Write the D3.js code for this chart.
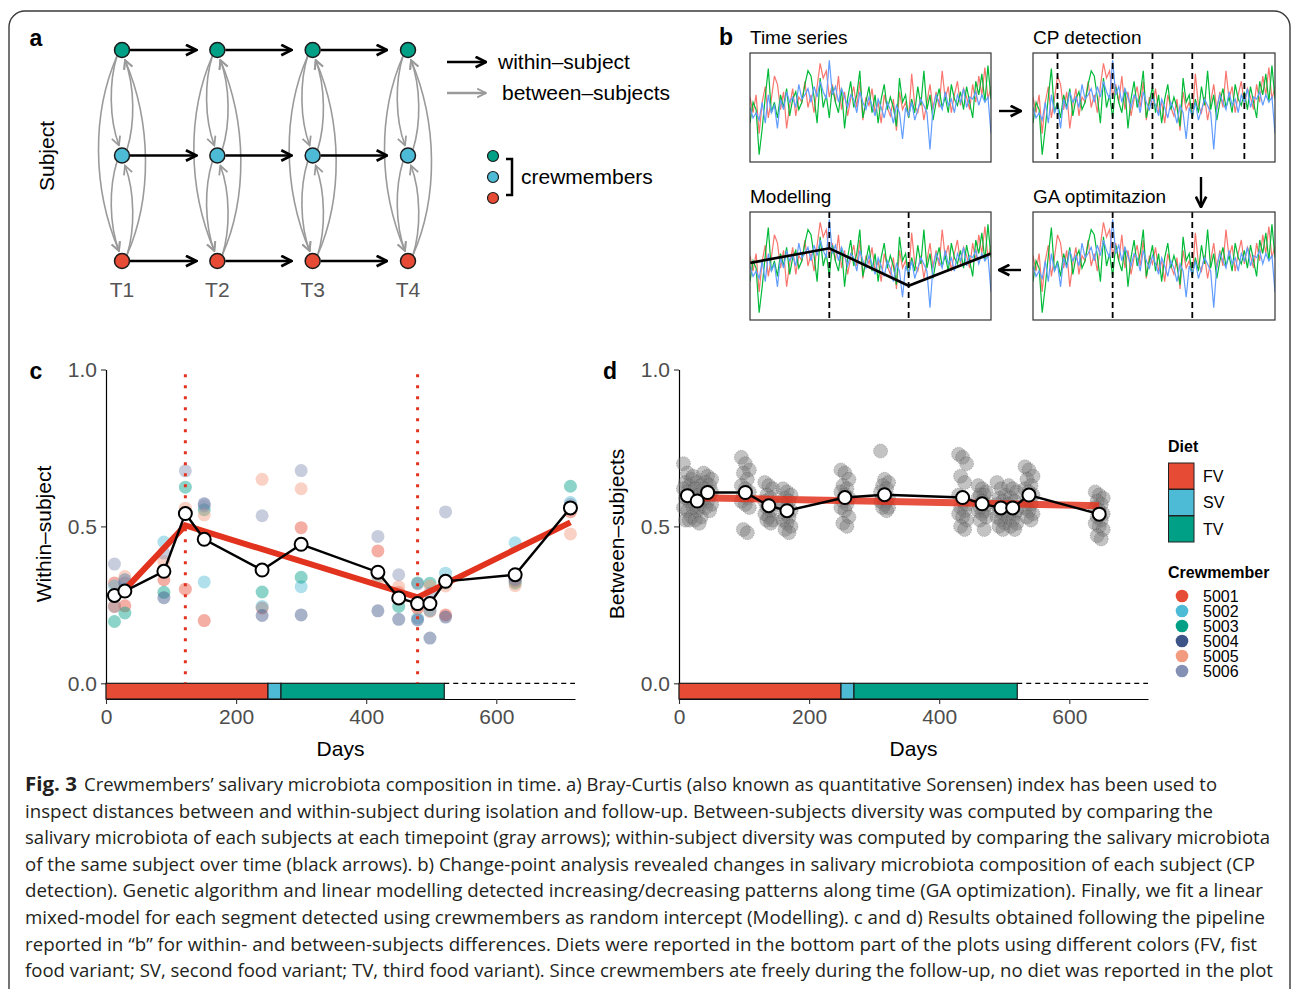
<!DOCTYPE html>
<html>
<head>
<meta charset="utf-8">
<script src="https://cdn.jsdelivr.net/npm/d3@7"></script>
<style>
  body { margin: 0; background: #fff; }
  svg { display: block; }
  text { font-family: "Liberation Sans", Arial, Helvetica, sans-serif; }
  text.caption { font-family: "Open Sans", "Noto Sans", sans-serif; }
</style>
</head>
<body>
<div id="fig"></div>
<script>
// ---- data ----------------------------------------------------------------

// panel a (schema)
var timepoints = ['T1', 'T2', 'T3', 'T4'];
var schemaColors = ['#00A087', '#4DBBD5', '#E64B35'];

// panel b (toy time series, three subjects)
var tsRed = [0.60,0.45,0.62,0.25,0.55,0.70,0.40,0.58,0.80,0.72,0.48,0.65,0.30,0.52,0.68,0.42,0.60,0.55,0.75,0.50,
  0.62,0.45,0.70,0.92,0.78,0.85,0.60,0.72,0.55,0.80,0.48,0.65,0.42,0.58,0.70,0.50,0.75,0.38,0.60,0.52,
  0.68,0.45,0.55,0.35,0.62,0.50,0.42,0.58,0.28,0.65,0.48,0.55,0.40,0.82,0.52,0.45,0.60,0.38,0.55,0.72,
  0.48,0.65,0.50,0.85,0.58,0.70,0.45,0.62,0.75,0.52,0.68,0.60,0.48,0.72,0.55,0.80,0.62,0.88,0.58,0.70];
var tsGreen = [0.35,0.55,0.48,0.05,0.30,0.60,0.87,0.45,0.55,0.40,0.62,0.50,0.68,0.42,0.58,0.65,0.48,0.55,0.72,0.85,
  0.80,0.60,0.35,0.78,0.50,0.62,0.40,0.70,0.55,0.45,0.68,0.30,0.58,0.75,0.50,0.62,0.85,0.40,0.55,0.70,
  0.45,0.62,0.35,0.58,0.72,0.48,0.60,0.50,0.32,0.78,0.55,0.62,0.40,0.58,0.45,0.70,0.52,0.85,0.48,0.62,
  0.38,0.55,0.68,0.50,0.60,0.45,0.72,0.58,0.52,0.65,0.48,0.70,0.55,0.40,0.75,0.62,0.82,0.55,0.90,0.58];
var tsBlue = [0.50,0.40,0.45,0.38,0.55,0.35,0.62,0.45,0.52,0.30,0.58,0.48,0.65,0.55,0.60,0.50,0.72,0.58,0.62,0.68,
  0.55,0.70,0.60,0.75,0.65,0.58,0.95,0.62,0.70,0.55,0.68,0.60,0.50,0.62,0.58,0.45,0.65,0.55,0.48,0.60,
  0.52,0.42,0.58,0.50,0.40,0.55,0.48,0.35,0.52,0.45,0.20,0.50,0.42,0.55,0.38,0.48,0.58,0.52,0.45,0.10,
  0.50,0.62,0.55,0.48,0.65,0.52,0.58,0.45,0.62,0.55,0.68,0.50,0.60,0.58,0.65,0.52,0.62,0.55,0.60,0.25];
var cpDetected = [8, 26, 39, 52, 69];
var cpSelected = [26, 52];
var fitIndex = [0, 26, 52, 79];
var fitValue = [0.53, 0.67, 0.31, 0.62];

// panels c and d
var diets = ['FV', 'SV', 'TV'];
var dietStart = [0, 249, 269];
var dietEnd = [249, 269, 520];
var followUpEnd = 721;
var dietColors = ['#E64B35', '#4DBBD5', '#00A087'];

var crewIds = ['5001', '5002', '5003', '5004', '5005', '5006'];
var crewColors = ['#E64B35', '#4DBBD5', '#00A087', '#3C5488', '#F39B7F', '#8491B4'];

// c: within-subject
var daysC = [13, 29, 89, 122, 151, 240, 300, 418, 450, 479, 498, 522, 629, 714];
var meanC = [0.280, 0.294, 0.357, 0.541, 0.459, 0.361, 0.443, 0.354, 0.272, 0.254, 0.254, 0.325, 0.346, 0.559];
var within5001 = [0.32, 0.247, 0.33, 0.30, 0.20, 0.24, 0.496, 0.422, 0.29, 0.24, 0.23, 0.218, 0.325, 0.547];
var within5002 = [0.31, 0.33, 0.45, 0.54, 0.323, 0.245, 0.308, 0.34, 0.27, 0.208, 0.232, 0.351, 0.448, 0.576];
var within5003 = [0.197, 0.224, 0.29, 0.625, 0.553, 0.291, 0.338, 0.349, 0.245, 0.32, 0.319, 0.32, 0.319, 0.628];
var within5004 = [0.245, 0.32, 0.273, 0.54, 0.572, 0.216, 0.218, 0.231, 0.204, 0.202, 0.144, 0.211, 0.332, 0.56];
var within5005 = [0.245, 0.34, 0.388, 0.558, 0.537, 0.65, 0.62, 0.33, 0.308, 0.24, 0.31, 0.31, 0.311, 0.476];
var within5006 = [0.38, 0.33, 0.415, 0.677, 0.565, 0.534, 0.678, 0.468, 0.346, 0.317, 0.287, 0.546, 0.33, 0.57];
var segDaysC = [14, 122, 479, 714];
var segValC = [0.266, 0.503, 0.274, 0.513];
var changePointsC = [122, 479];

// d: between-subjects (15 pairs per timepoint)
var daysD = [13, 28, 44, 102, 138, 166, 255, 316, 436, 466, 495, 513, 538, 646];
var meanD = [0.598, 0.581, 0.608, 0.608, 0.566, 0.550, 0.592, 0.601, 0.592, 0.572, 0.559, 0.559, 0.600, 0.539];
var betweenD = [
  [0.70,0.67,0.65,0.64,0.63,0.62,0.61,0.60,0.59,0.58,0.56,0.55,0.53,0.52,0.52],
  [0.66,0.64,0.63,0.62,0.60,0.59,0.58,0.58,0.57,0.56,0.56,0.55,0.53,0.52,0.51],
  [0.67,0.66,0.65,0.64,0.63,0.62,0.61,0.61,0.60,0.60,0.59,0.58,0.57,0.56,0.55],
  [0.72,0.70,0.68,0.67,0.65,0.63,0.62,0.61,0.60,0.59,0.58,0.57,0.56,0.49,0.48],
  [0.64,0.63,0.62,0.60,0.59,0.58,0.57,0.57,0.56,0.55,0.54,0.53,0.52,0.52,0.51],
  [0.62,0.61,0.60,0.59,0.58,0.57,0.56,0.55,0.54,0.53,0.52,0.51,0.50,0.49,0.48],
  [0.68,0.67,0.65,0.63,0.62,0.61,0.60,0.59,0.58,0.57,0.56,0.55,0.53,0.51,0.50],
  [0.74,0.65,0.64,0.63,0.62,0.61,0.60,0.59,0.59,0.58,0.58,0.57,0.56,0.56,0.55],
  [0.73,0.72,0.70,0.66,0.64,0.60,0.58,0.57,0.56,0.55,0.54,0.53,0.52,0.50,0.49],
  [0.63,0.62,0.61,0.60,0.60,0.59,0.58,0.57,0.56,0.55,0.55,0.54,0.53,0.52,0.49],
  [0.64,0.62,0.60,0.59,0.58,0.57,0.56,0.56,0.55,0.54,0.53,0.52,0.51,0.50,0.49],
  [0.63,0.62,0.61,0.59,0.58,0.57,0.56,0.55,0.55,0.54,0.53,0.52,0.51,0.50,0.49],
  [0.69,0.68,0.66,0.65,0.63,0.62,0.61,0.60,0.58,0.57,0.56,0.55,0.54,0.53,0.52],
  [0.61,0.60,0.59,0.58,0.57,0.56,0.55,0.54,0.53,0.52,0.51,0.50,0.49,0.47,0.46]
];
var segDaysD = [13, 646];
var segValD = [0.592, 0.566];

var yTicks = [0, 0.5, 1];
var xTicks = [0, 200, 400, 600];

var captionLines = [
  'Crewmembers\u2019 salivary microbiota composition in time. a) Bray-Curtis (also known as quantitative Sorensen) index has been used to',
  'inspect distances between and within-subject during isolation and follow-up. Between-subjects diversity was computed by comparing the',
  'salivary microbiota of each subjects at each timepoint (gray arrows); within-subject diversity was computed by comparing the salivary microbiota',
  'of the same subject over time (black arrows). b) Change-point analysis revealed changes in salivary microbiota composition of each subject (CP',
  'detection). Genetic algorithm and linear modelling detected increasing/decreasing patterns along time (GA optimization). Finally, we fit a linear',
  'mixed-model for each segment detected using crewmembers as random intercept (Modelling). c and d) Results obtained following the pipeline',
  'reported in \u201cb\u201d for within- and between-subjects differences. Diets were reported in the bottom part of the plots using different colors (FV, fist',
  'food variant; SV, second food variant; TV, third food variant). Since crewmembers ate freely during the follow-up, no diet was reported in the plot'
];
var captionEnds = [1217, 1213, 1270, 1255, 1263, 1265, 1257, 1273];

// ---- drawing -------------------------------------------------------------

var svg = d3.select('#fig').append('svg')
    .attr('width', 1292)
    .attr('height', 989);

svg.append('rect')
    .attr('x', 9).attr('y', 11)
    .attr('width', 1281).attr('height', 1020)
    .attr('rx', 16)
    .attr('fill', 'none')
    .attr('stroke', '#3a3a3a')
    .attr('stroke-width', 1.4);

var defs = svg.append('defs');

function marker(id, color, size, sw) {
    defs.append('marker')
        .attr('id', id)
        .attr('viewBox', '0 0 10 10')
        .attr('refX', 9).attr('refY', 5)
        .attr('markerWidth', size).attr('markerHeight', size)
        .attr('markerUnits', 'userSpaceOnUse')
        .attr('orient', 'auto')
      .append('path')
        .attr('d', 'M1,1 L9,5 L1,9')
        .attr('fill', 'none')
        .attr('stroke', color)
        .attr('stroke-width', sw);
}
marker('headBlack', '#000', 13, 2.1);
marker('headGray', '#9a9a9a', 11, 1.6);

function panelLabel(txt, x, y) {
    svg.append('text')
        .attr('x', x).attr('y', y)
        .attr('text-anchor', 'middle')
        .attr('font-size', 23)
        .attr('font-weight', 'bold')
        .text(txt);
}

// ---------- panel a ----------
panelLabel('a', 36, 46);

var aX = d3.scalePoint().domain(timepoints).range([122, 408]);
var aY = d3.scalePoint().domain([0, 1, 2]).range([50, 261]);

// gray between-subject arcs: [from row, to row, bulge]
var arcs = [[0, 2, -30], [0, 1, -13], [1, 2, -13], [1, 0, 13], [2, 1, 13], [2, 0, 30]];
var ga = svg.append('g');
timepoints.forEach(function (t) {
    var cx = aX(t);
    arcs.forEach(function (a) {
        var y0 = aY(a[0]), y1 = aY(a[1]);
        var dir = y1 > y0 ? 1 : -1;
        var span = Math.abs(y1 - y0);
        var side = a[2] < 0 ? -1 : 1;
        var p = d3.path();
        p.moveTo(cx + side * 5, y0 + dir * 6);
        p.bezierCurveTo(cx + a[2], y0 + dir * span * 0.3,
                        cx + a[2], y1 - dir * span * 0.35,
                        cx + side * 3, y1 - dir * 10);
        ga.append('path')
            .attr('d', p.toString())
            .attr('fill', 'none')
            .attr('stroke', '#9a9a9a')
            .attr('stroke-width', 1.6)
            .attr('marker-end', 'url(#headGray)');
    });
});

// black within-subject arrows
[0, 1, 2].forEach(function (r) {
    for (var i = 0; i < timepoints.length - 1; i++) {
        svg.append('line')
            .attr('x1', aX(timepoints[i]) + 8).attr('x2', aX(timepoints[i + 1]) - 21)
            .attr('y1', aY(r)).attr('y2', aY(r))
            .attr('stroke', '#000').attr('stroke-width', 2.4)
            .attr('marker-end', 'url(#headBlack)');
    }
});

timepoints.forEach(function (t) {
    [0, 1, 2].forEach(function (r) {
        svg.append('circle')
            .attr('cx', aX(t)).attr('cy', aY(r)).attr('r', 7.5)
            .attr('fill', schemaColors[r])
            .attr('stroke', '#1a1a1a').attr('stroke-width', 1.5);
    });
    svg.append('text')
        .attr('x', aX(t)).attr('y', 297)
        .attr('text-anchor', 'middle')
        .attr('font-size', 21)
        .attr('fill', '#555')
        .text(t);
});

svg.append('text')
    .attr('transform', 'translate(47,156) rotate(-90)')
    .attr('text-anchor', 'middle')
    .attr('dy', '0.35em')
    .attr('font-size', 21)
    .text('Subject');

// legend of panel a
svg.append('line').attr('x1', 447).attr('x2', 486).attr('y1', 62).attr('y2', 62)
    .attr('stroke', '#000').attr('stroke-width', 2.4).attr('marker-end', 'url(#headBlack)');
svg.append('line').attr('x1', 447).attr('x2', 486).attr('y1', 93).attr('y2', 93)
    .attr('stroke', '#9a9a9a').attr('stroke-width', 2.4).attr('marker-end', 'url(#headGray)');
svg.append('text').attr('x', 498).attr('y', 69).attr('font-size', 21).text('within\u2013subject');
svg.append('text').attr('x', 502).attr('y', 100).attr('font-size', 21).text('between\u2013subjects');

[156, 177, 198].forEach(function (cy, i) {
    svg.append('circle').attr('cx', 493).attr('cy', cy).attr('r', 5.5)
        .attr('fill', schemaColors[i]).attr('stroke', '#1a1a1a').attr('stroke-width', 1.2);
});
svg.append('path').attr('d', 'M506,159 H512 V195 H506')
    .attr('fill', 'none').attr('stroke', '#000').attr('stroke-width', 2.5);
svg.append('text').attr('x', 521).attr('y', 184).attr('font-size', 21).text('crewmembers');

// ---------- panel b ----------
panelLabel('b', 726, 45);

var boxes = [
    { x: 750, y: 53, w: 241, h: 109, title: 'Time series', cps: [], fit: false },
    { x: 1033, y: 53, w: 242, h: 109, title: 'CP detection', cps: cpDetected, fit: false },
    { x: 750, y: 212, w: 241, h: 108, title: 'Modelling', cps: cpSelected, fit: true },
    { x: 1033, y: 212, w: 242, h: 108, title: 'GA optimitazion', cps: cpSelected, fit: false }
];
var seriesList = [[tsRed, '#F8766D'], [tsGreen, '#00BA38'], [tsBlue, '#619CFF']];

boxes.forEach(function (b, bi) {
    var bx = d3.scaleLinear().domain([0, tsRed.length - 1]).range([b.x, b.x + b.w]);
    var by = d3.scaleLinear().domain([0, 1]).range([b.y + b.h - 2, b.y + 2]);
    var clipId = 'clip' + bi;
    defs.append('clipPath').attr('id', clipId)
      .append('rect').attr('x', b.x).attr('y', b.y).attr('width', b.w).attr('height', b.h);
    var g = svg.append('g').attr('clip-path', 'url(#' + clipId + ')');
    var line = d3.line().x(function (d, i) { return bx(i); }).y(function (d) { return by(d); });
    seriesList.forEach(function (s) {
        g.append('path').attr('d', line(s[0]))
            .attr('fill', 'none').attr('stroke', s[1]).attr('stroke-width', 1.2);
    });
    b.cps.forEach(function (c) {
        g.append('line').attr('x1', bx(c)).attr('x2', bx(c)).attr('y1', b.y).attr('y2', b.y + b.h)
            .attr('stroke', '#000').attr('stroke-width', 1.8).attr('stroke-dasharray', '6,4');
    });
    if (b.fit) {
        var fitLine = d3.line().x(function (d, i) { return bx(fitIndex[i]); }).y(function (d) { return by(d); });
        g.append('path').attr('d', fitLine(fitValue))
            .attr('fill', 'none').attr('stroke', '#000').attr('stroke-width', 2.6);
    }
    svg.append('rect').attr('x', b.x).attr('y', b.y).attr('width', b.w).attr('height', b.h)
        .attr('fill', 'none').attr('stroke', '#333').attr('stroke-width', 1.2);
    svg.append('text').attr('x', b.x).attr('y', b.y - 9).attr('font-size', 19).text(b.title);
});

svg.append('line').attr('x1', 999).attr('x2', 1021).attr('y1', 111).attr('y2', 111)
    .attr('stroke', '#000').attr('stroke-width', 2.4).attr('marker-end', 'url(#headBlack)');
svg.append('line').attr('x1', 1201).attr('x2', 1201).attr('y1', 177).attr('y2', 207)
    .attr('stroke', '#000').attr('stroke-width', 2.4).attr('marker-end', 'url(#headBlack)');
svg.append('line').attr('x1', 1021).attr('x2', 999).attr('y1', 270).attr('y2', 270)
    .attr('stroke', '#000').attr('stroke-width', 2.4).attr('marker-end', 'url(#headBlack)');

// ---------- panels c and d ----------
function timePanel(opts) {
    var g = svg.append('g');
    var x = d3.scaleLinear().domain([0, followUpEnd]).range([opts.x0, opts.x0 + 469]);
    var y = d3.scaleLinear().domain([-0.05, 1]).range([699, 369.5]);

    var ya = g.append('g')
        .attr('transform', 'translate(' + opts.x0 + ',0)')
        .call(d3.axisLeft(y).tickValues(yTicks).tickFormat(d3.format('.1f'))
            .tickSizeInner(5).tickSizeOuter(0).tickPadding(4));
    var xa = g.append('g')
        .attr('transform', 'translate(0,699)')
        .call(d3.axisBottom(x).tickValues(xTicks).tickSizeInner(5).tickSizeOuter(0).tickPadding(5));
    [ya, xa].forEach(function (a) {
        a.attr('font-size', 21);
        a.selectAll('text').attr('fill', '#4d4d4d');
        a.select('.domain').attr('stroke', '#000').attr('stroke-width', 1.2);
        a.selectAll('.tick line').attr('stroke', '#333').attr('stroke-width', 1.1);
    });

    g.append('text')
        .attr('transform', 'translate(' + opts.titleX + ',534) rotate(-90)')
        .attr('text-anchor', 'middle').attr('dy', '0.35em')
        .attr('font-size', 21)
        .text(opts.title);
    g.append('text')
        .attr('x', opts.x0 + 234.5).attr('y', 756)
        .attr('text-anchor', 'middle')
        .attr('font-size', 21)
        .text('Days');

    // diet bar
    diets.forEach(function (d, i) {
        g.append('rect')
            .attr('x', x(dietStart[i])).attr('y', y(0))
            .attr('width', x(dietEnd[i]) - x(dietStart[i]))
            .attr('height', y(-0.05) - y(0))
            .attr('fill', dietColors[i])
            .attr('stroke', '#1a1a1a').attr('stroke-width', 1.2);
    });
    g.append('line')
        .attr('x1', x(dietEnd[2])).attr('x2', x(followUpEnd))
        .attr('y1', y(0)).attr('y2', y(0))
        .attr('stroke', '#000').attr('stroke-width', 1.2).attr('stroke-dasharray', '5,4');

    opts.drawPoints(g, x, y);

    if (opts.changePoints) {
        opts.changePoints.forEach(function (c) {
            g.append('line')
                .attr('x1', x(c)).attr('x2', x(c))
                .attr('y1', y(0.985)).attr('y2', y(0))
                .attr('stroke', '#E2331F').attr('stroke-width', 3)
                .attr('stroke-dasharray', '3,8');
        });
    }

    var seg = d3.line().x(function (d, i) { return x(opts.segDays[i]); }).y(function (d) { return y(d); });
    g.append('path').attr('d', seg(opts.segVal))
        .attr('fill', 'none').attr('stroke', '#E2331F')
        .attr('stroke-opacity', opts.segOpacity)
        .attr('stroke-width', opts.segWidth);

    var meanLine = d3.line().x(function (d, i) { return x(opts.days[i]); }).y(function (d) { return y(d); });
    g.append('path').attr('d', meanLine(opts.mean))
        .attr('fill', 'none').attr('stroke', '#000').attr('stroke-width', 2.4);
    g.selectAll('.meanPt').data(opts.mean).enter().append('circle')
        .attr('cx', function (d, i) { return x(opts.days[i]); })
        .attr('cy', function (d) { return y(d); })
        .attr('r', 6.5)
        .attr('fill', '#fff').attr('stroke', '#000').attr('stroke-width', 2);
}

panelLabel('c', 36, 379);
var withinSeries = [within5001, within5002, within5003, within5004, within5005, within5006];
timePanel({
    x0: 106, titleX: 44, title: 'Within\u2013subject',
    days: daysC, mean: meanC, segDays: segDaysC, segVal: segValC,
    segWidth: 6, segOpacity: 1, changePoints: changePointsC,
    drawPoints: function (g, x, y) {
        withinSeries.forEach(function (vals, k) {
            g.selectAll('.crew' + k).data(vals).enter().append('circle')
                .attr('cx', function (d, i) { return x(daysC[i]); })
                .attr('cy', function (d) { return y(d); })
                .attr('r', 6.5)
                .attr('fill', crewColors[k])
                .attr('fill-opacity', 0.45);
        });
    }
});

panelLabel('d', 610, 379);
var jitter = [-4, 0, 4, -2, 2];
timePanel({
    x0: 679, titleX: 617, title: 'Between\u2013subjects',
    days: daysD, mean: meanD, segDays: segDaysD, segVal: segValD,
    segWidth: 7, segOpacity: 0.85, changePoints: null,
    drawPoints: function (g, x, y) {
        betweenD.forEach(function (vals, t) {
            g.selectAll('.pair' + t).data(vals).enter().append('circle')
                .attr('cx', function (d, i) { return x(daysD[t]) + jitter[i % jitter.length]; })
                .attr('cy', function (d) { return y(d); })
                .attr('r', 7)
                .attr('fill', '#7a7a7a').attr('fill-opacity', 0.45)
                .attr('stroke', '#222').attr('stroke-opacity', 0.35)
                .attr('stroke-width', 0.8).attr('stroke-dasharray', '1.2,1.2');
        });
    }
});

// ---------- legend ----------
var lg = svg.append('g');
lg.append('text').attr('x', 1168).attr('y', 452).attr('font-size', 16).attr('font-weight', 'bold').text('Diet');
diets.forEach(function (d, i) {
    lg.append('rect').attr('x', 1168.5).attr('y', 463 + i * 26.5).attr('width', 25.5).attr('height', 26)
        .attr('fill', dietColors[i]).attr('stroke', '#222').attr('stroke-width', 1);
    lg.append('text').attr('x', 1203).attr('y', 476 + i * 26.5).attr('dy', '0.35em')
        .attr('font-size', 16).text(d);
});
lg.append('text').attr('x', 1168).attr('y', 578).attr('font-size', 16).attr('font-weight', 'bold').text('Crewmember');
crewIds.forEach(function (c, i) {
    lg.append('circle').attr('cx', 1182).attr('cy', 596 + i * 15).attr('r', 6.3).attr('fill', crewColors[i]);
    lg.append('text').attr('x', 1203).attr('y', 596 + i * 15).attr('dy', '0.35em')
        .attr('font-size', 16).text(c);
});

// ---------- caption ----------
var cap = svg.append('g').attr('fill', '#231f20');
captionLines.forEach(function (line, i) {
    var yb = 791 + i * 26.6;
    var x0 = 25;
    if (i === 0) {
        cap.append('text').attr('class', 'caption').attr('x', 25).attr('y', yb)
            .attr('font-size', 19)
            .attr('font-weight', 'bold').attr('textLength', 52).attr('lengthAdjust', 'spacingAndGlyphs')
            .text('Fig. 3');
        x0 = 84;
    }
    cap.append('text').attr('class', 'caption').attr('x', x0).attr('y', yb)
        .attr('font-size', 19)
        .attr('textLength', captionEnds[i] - x0).attr('lengthAdjust', 'spacingAndGlyphs')
        .text(line);
});
</script>
</body>
</html>
